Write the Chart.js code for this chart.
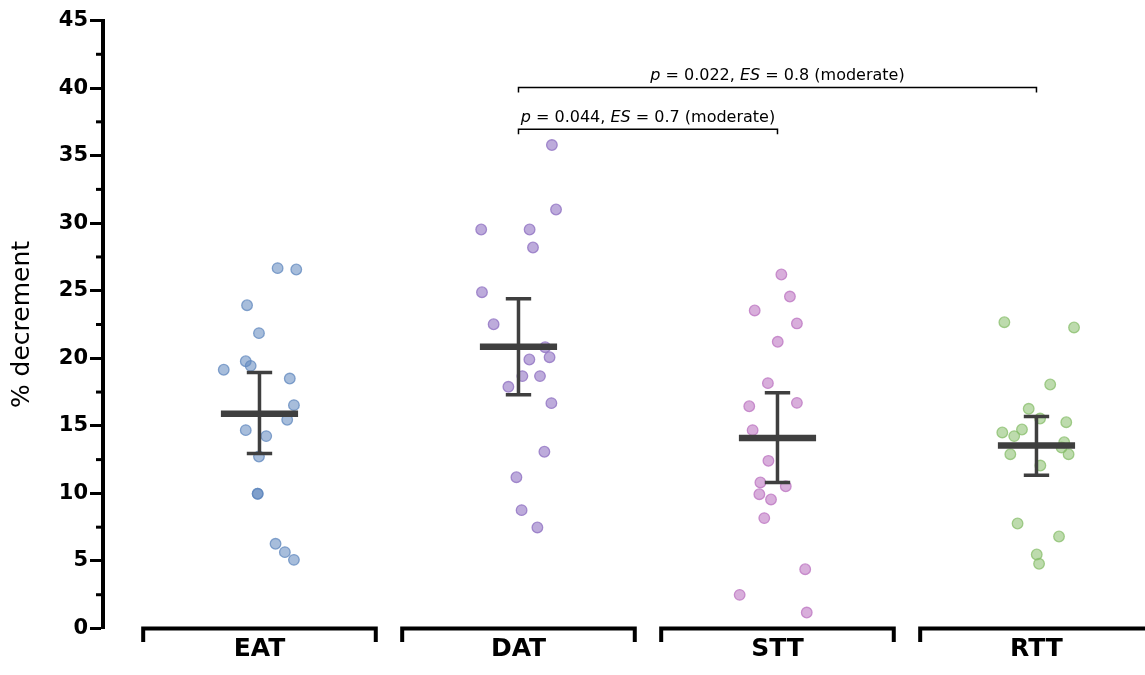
<!DOCTYPE html>
<html><head><meta charset="utf-8">
<script src="https://cdn.jsdelivr.net/npm/chart.js@4.4.1/dist/chart.umd.min.js"></script>
<style>html,body{margin:0;padding:0;background:#fff;}#wrap{width:1145px;height:675px;}</style>
</head><body><div id="wrap"><canvas id="c" width="1145" height="675"></canvas></div>
<script>
const categories = ['EAT', 'DAT', 'STT', 'RTT'];

const eatValues = [26.67, 26.57, 23.93, 21.86, 19.78, 19.44, 19.15, 18.5, 16.53, 15.45, 14.68, 14.24, 12.73, 9.97, 9.97, 6.27, 5.65, 5.08];
const eatJitter = [0.070, 0.142, -0.048, -0.002, -0.053, -0.034, -0.138, 0.117, 0.133, 0.107, -0.053, 0.026, -0.002, -0.007, -0.007, 0.062, 0.098, 0.133];

const datValues = [35.78, 31.01, 29.53, 29.53, 28.2, 24.89, 22.52, 20.82, 19.91, 20.08, 18.68, 18.68, 17.89, 16.68, 13.08, 11.2, 8.76, 7.48];
const datJitter = [0.129, 0.145, -0.144, 0.043, 0.056, -0.141, -0.096, 0.103, 0.042, 0.120, 0.015, 0.083, -0.039, 0.127, 0.100, -0.008, 0.012, 0.073];

const sttValues = [26.2, 24.57, 23.54, 22.58, 21.22, 18.16, 16.45, 16.7, 14.68, 12.41, 10.81, 10.53, 9.94, 9.55, 8.17, 4.39, 2.49, 1.18];
const sttJitter = [0.015, 0.048, -0.088, 0.075, 0.001, -0.037, -0.109, 0.075, -0.096, -0.035, -0.066, 0.032, -0.070, -0.025, -0.051, 0.107, -0.146, 0.113];

const rttValues = [22.67, 22.28, 18.06, 16.26, 15.54, 15.27, 14.51, 14.73, 14.24, 13.79, 13.4, 12.9, 12.9, 12.06, 7.77, 6.81, 5.48, 4.79];
const rttJitter = [-0.124, 0.145, 0.053, -0.030, 0.014, 0.115, -0.132, -0.056, -0.086, 0.107, 0.097, 0.124, -0.101, 0.015, -0.073, 0.087, 0.001, 0.010];

const means = [15.9, 20.85, 14.1, 13.55];
const sdUpper = [18.95, 24.4, 17.45, 15.7];
const sdLower = [12.95, 17.3, 10.8, 11.35];

const yTickValues = [0, 5, 10, 15, 20, 25, 30, 35, 40, 45];
const yMinorTicks = [2.5, 7.5, 12.5, 17.5, 22.5, 27.5, 32.5, 37.5, 42.5];

const compFrom = [1, 1];
const compTo = [3, 2];
const compY = [40.05, 36.95];
const compP = ['0.022', '0.044'];
const compES = ['0.8', '0.7'];
const compLabel = ['moderate', 'moderate'];

const FONT = 'DejaVu Sans';
const groups = [
  {values: eatValues, jitter: eatJitter, fill: 'rgba(95,135,190,0.55)', line: 'rgba(95,135,190,0.75)'},
  {values: datValues, jitter: datJitter, fill: 'rgba(145,115,195,0.6)', line: 'rgba(145,115,195,0.8)'},
  {values: sttValues, jitter: sttJitter, fill: 'rgba(190,120,195,0.6)', line: 'rgba(190,120,195,0.8)'},
  {values: rttValues, jitter: rttJitter, fill: 'rgba(135,190,105,0.55)', line: 'rgba(135,190,105,0.75)'}
];

const datasets = groups.map((g, ci) => ({
  label: categories[ci],
  data: g.values.map((v, i) => ({x: ci + g.jitter[i], y: v})),
  backgroundColor: g.fill,
  borderColor: g.line,
  borderWidth: 1.3,
  pointRadius: 5.3,
  pointHoverRadius: 5.3,
  showLine: false,
  clip: false
}));

const overlay = {
  id: 'overlay',
  afterDatasetsDraw(chart) {
    const ctx = chart.ctx, xs = chart.scales.x, ys = chart.scales.y;
    ctx.save();
    ctx.strokeStyle = '#3f3f3f';
    ctx.lineCap = 'butt';
    categories.forEach((c, i) => {
      const cx = xs.getPixelForValue(i);
      const m = ys.getPixelForValue(means[i]);
      const hi = ys.getPixelForValue(sdUpper[i]);
      const lo = ys.getPixelForValue(sdLower[i]);
      const hw = xs.getPixelForValue(i + 0.149) - cx;
      const cw = xs.getPixelForValue(i + 0.049) - cx;
      ctx.lineWidth = 3.5;
      ctx.beginPath();
      ctx.moveTo(cx, hi); ctx.lineTo(cx, lo);
      ctx.moveTo(cx - cw, hi); ctx.lineTo(cx + cw, hi);
      ctx.moveTo(cx - cw, lo); ctx.lineTo(cx + cw, lo);
      ctx.stroke();
      ctx.lineWidth = 6.5;
      ctx.beginPath();
      ctx.moveTo(cx - hw, m); ctx.lineTo(cx + hw, m);
      ctx.stroke();
    });
    ctx.restore();
  },
  afterDraw(chart) {
    const ctx = chart.ctx, xs = chart.scales.x, ys = chart.scales.y;
    const area = chart.chartArea;
    ctx.save();
    ctx.strokeStyle = '#000';
    ctx.lineWidth = 3;
    yMinorTicks.forEach(v => {
      const y = ys.getPixelForValue(v);
      ctx.beginPath(); ctx.moveTo(area.left - 7, y); ctx.lineTo(area.left, y); ctx.stroke();
    });
    ctx.lineWidth = 4;
    ctx.lineJoin = 'miter';
    const by = ys.getPixelForValue(0);
    categories.forEach((c, i) => {
      const l = xs.getPixelForValue(i - 0.449), r = xs.getPixelForValue(i + 0.449);
      ctx.beginPath();
      ctx.moveTo(l, by + 13.5); ctx.lineTo(l, by); ctx.lineTo(r, by); ctx.lineTo(r, by + 13.5);
      ctx.stroke();
    });
    ctx.lineWidth = 1.5;
    compFrom.forEach((f, k) => {
      const l = xs.getPixelForValue(f), r = xs.getPixelForValue(compTo[k]);
      const y = ys.getPixelForValue(compY[k]);
      ctx.beginPath();
      ctx.moveTo(l, y + 5); ctx.lineTo(l, y); ctx.lineTo(r, y); ctx.lineTo(r, y + 5);
      ctx.stroke();
      const segs = [
        {t: 'p', it: true}, {t: ' = ' + compP[k] + ', ', it: false},
        {t: 'ES', it: true}, {t: ' = ' + compES[k] + ' (' + compLabel[k] + ')', it: false}
      ];
      let total = 0;
      segs.forEach(s => { ctx.font = (s.it ? 'italic ' : '') + '16px "' + FONT + '"'; s.w = ctx.measureText(s.t).width; total += s.w; });
      let x = (l + r) / 2 - total / 2;
      ctx.fillStyle = '#000';
      ctx.textBaseline = 'alphabetic';
      ctx.textAlign = 'left';
      segs.forEach(s => { ctx.font = (s.it ? 'italic ' : '') + '16px "' + FONT + '"'; ctx.fillText(s.t, x, y - 7); x += s.w; });
    });
    ctx.restore();
  }
};

new Chart(document.getElementById('c'), {
  type: 'scatter',
  data: {datasets},
  options: {
    responsive: false,
    animation: false,
    devicePixelRatio: 1,
    layout: {autoPadding: false, padding: {top: 20.5, right: 0, left: 0, bottom: 0}},
    plugins: {legend: {display: false}, tooltip: {enabled: false}},
    scales: {
      x: {
        type: 'linear',
        min: -0.6042,
        max: 3.419,
        afterBuildTicks: s => { s.ticks = categories.map((c, i) => ({value: i})); },
        afterFit: s => { s.height = 46.5; s.paddingLeft = 0; s.paddingRight = 0; },
        grid: {display: false, drawTicks: false},
        border: {display: false},
        ticks: {
          autoSkip: false, maxRotation: 0, padding: 6,
          color: '#000',
          font: {family: FONT, size: 25, weight: 'bold'},
          callback: v => categories[v]
        }
      },
      y: {
        min: 0,
        max: 45,
        afterBuildTicks: s => { s.ticks = yTickValues.map(v => ({value: v})); },
        afterFit: s => { s.width = 103; },
        grid: {drawOnChartArea: false, drawTicks: true, tickLength: 13, tickWidth: 3, color: '#000'},
        border: {display: true, width: 4, color: '#000'},
        ticks: {padding: 2, color: '#000', font: {family: FONT, size: 21, weight: 'bold'}},
        title: {display: true, text: '% decrement', color: '#000', font: {family: FONT, size: 25, weight: 'normal'}, padding: {top: 7, bottom: 0}}
      }
    }
  },
  plugins: [overlay]
});
</script></body></html>
